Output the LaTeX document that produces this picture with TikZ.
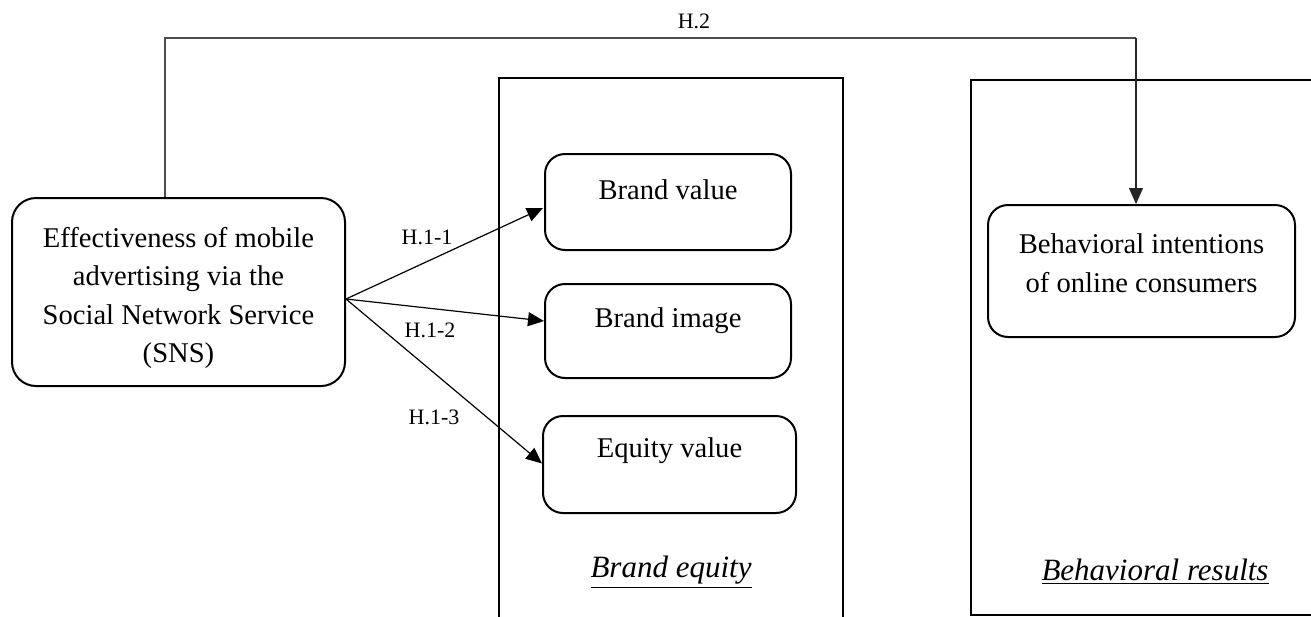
\documentclass[tikz,border=0pt]{standalone}
\usepackage{fontspec}
\setmainfont{Liberation Serif}
\usetikzlibrary{arrows.meta,calc}
\tikzset{
  rbox/.style={draw, line width=1pt, rounded corners=10pt, inner sep=0pt},
  btxt/.style={align=center, font=\fontsize{14.3}{19.3}\selectfont, inner sep=0pt},
  hlab/.style={font=\fontsize{11}{12}\selectfont, inner sep=0pt},
  grp/.style={draw, line width=1.2pt},
  conn/.style={line width=0.6pt, -{Triangle[length=8pt,width=7pt]}},
  glab/.style={font=\fontsize{15.5}{16}\selectfont\itshape, inner sep=0pt}
}
\begin{document}
\begin{tikzpicture}[x=0.5pt,y=-0.5pt]
\clip (0,0) rectangle (1311,616);
\fill[white] (0,0) rectangle (1311,616);

% group rectangles
\draw[grp] (499,660) -- (499,78) -- (843,78) -- (843,660);
\draw[grp] (1360,615) -- (971,615) -- (971,80) -- (1360,80);

% boxes
\node[rbox, rounded corners=12pt, minimum width=166.5pt, minimum height=94pt] (src) at (178.5,292) {};
\node[btxt] (srct) at (178.5,298) {Effectiveness of mobile\\advertising via the\\Social Network Service\\(SNS)};

\node[rbox, minimum width=123pt, minimum height=48pt] (bv) at (668,202) {};
\node[btxt] (bvt) at (668,190) {Brand value};

\node[rbox, minimum width=123pt, minimum height=47pt] (bi) at (668,331) {};
\node[btxt] (bit) at (668,321) {Brand image};

\node[rbox, minimum width=126.5pt, minimum height=48.5pt] (ev) at (669.5,464.5) {};
\node[btxt] (evt) at (669.5,451) {Equity value};

\node[rbox, minimum width=153.5pt, minimum height=66pt] (bh) at (1141.5,271) {};
\node[btxt] (bht) at (1141.5,263) {Behavioral intentions\\of online consumers};

% group labels
\node[glab] (gbe) at (671,572) {\underline{Brand equity}};
\node[glab] (gbr) at (1155,572) {\underline{Behavioral results}};

% connectors
\coordinate (o) at (346,299);
\draw[conn] (o) -- ($(bv.west)+(-1,6)$);
\draw[conn] (o) -- ($(bi.west)+(0,-10)$);
\draw[conn] (o) -- ($(ev.west)+(0,-1)$);

\node[hlab] (h11) at (427,237) {H.1-1};
\node[hlab] (h12) at (430,330) {H.1-2};
\node[hlab] (h13) at (434,417) {H.1-3};

\coordinate (t1) at (165,38);
\coordinate (t2) at (1136,38);
\draw[line width=0.7pt, black!70] (src.north -| t1) -- (t1) -- (t2);
\draw[conn, black!85] (t2) -- (bh.north -| t2);
\node[hlab] (h2) at (694,21) {H.2};
\end{tikzpicture}
\end{document}
